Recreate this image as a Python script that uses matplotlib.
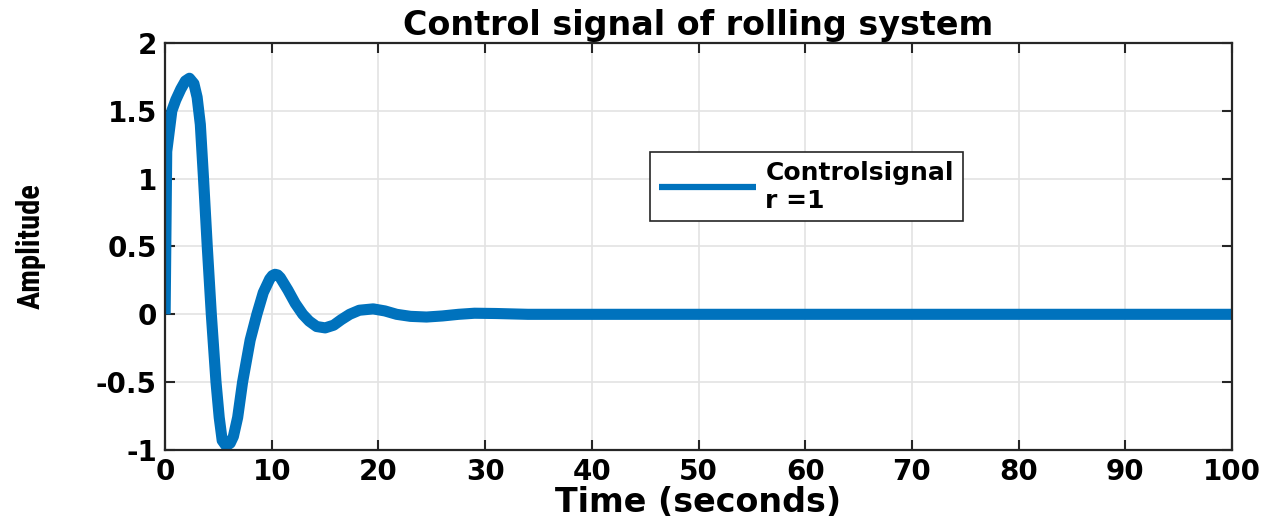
import numpy as np
import matplotlib
matplotlib.use("Agg")
import matplotlib.pyplot as plt

# control signal (time in s, amplitude)
t = [0, 0.15, 0.63, 1.0, 1.47, 1.9, 2.28, 2.7, 3.0, 3.3, 3.6, 3.95, 4.33,
     4.77, 5.07, 5.35, 5.72, 6.1, 6.4, 6.8, 7.26, 7.97, 8.6, 9.2, 9.8, 10.05, 10.3,
     10.55, 10.8, 11.5, 12.2, 12.9, 13.5, 14.2, 15.0, 15.8, 16.5, 17.3, 18.2, 19.5,
     20.6, 21.7, 23.0, 24.5, 26.0, 27.5, 29.0, 31.0, 34.0, 100.0]
u = [0, 1.2, 1.5, 1.58, 1.66, 1.72, 1.74, 1.7, 1.6, 1.4, 1.0, 0.5, 0.0,
     -0.5, -0.76, -0.93, -0.97, -0.95, -0.9, -0.76, -0.5, -0.19, 0.0, 0.16, 0.26, 0.285, 0.295,
     0.29, 0.27, 0.18, 0.08, 0.0, -0.05, -0.09, -0.10, -0.08, -0.04, 0.0, 0.03, 0.04,
     0.025, 0.0, -0.015, -0.02, -0.012, 0.0, 0.008, 0.006, 0.0, 0.0]

xticks = list(range(0, 101, 10))
yticks = [-1, -0.5, 0, 0.5, 1, 1.5, 2]
ytick_labels = ["-1", "-0.5", "0", "0.5", "1", "1.5", "2"]

plt.rcParams['font.family'] = ['DejaVu Sans']

fig = plt.figure(figsize=(12.8, 5.21), dpi=100)
ax = fig.add_axes([0.129, 0.1363, 0.8335, 0.7812])

ax.plot(t, u, color='#0072BD', linewidth=8, solid_joinstyle='round',
        solid_capstyle='butt', label='Controlsignal\nr =1')

ax.set_xlim(0, 100)
ax.set_ylim(-1, 2)
ax.set_xticks(xticks)
ax.set_yticks(yticks)
ax.set_yticklabels(ytick_labels)
ax.grid(True, color='#e3e3e3', linewidth=1.2)
ax.set_axisbelow(True)

ax.tick_params(direction='in', length=7, width=1.5, top=True, right=True,
               labelsize=20, colors='#262626', pad=6)
for lab in ax.get_xticklabels() + ax.get_yticklabels():
    lab.set_fontweight('bold')
    lab.set_color('black')
for s in ax.spines.values():
    s.set_color('#262626')
    s.set_linewidth(1.6)

ax.set_title('Control signal of rolling system', fontsize=24, fontweight='bold', pad=6)
ax.set_xlabel('Time (seconds)', fontsize=24, fontweight='bold', labelpad=0)
ax.set_ylabel('Amplitude', fontsize=22, fontstretch='condensed', fontweight='bold',
              family=['Liberation Sans Narrow', 'DejaVu Sans Condensed',
                      'Roboto Condensed', 'DejaVu Sans'])
ax.yaxis.set_label_coords(-0.112, 0.5)

leg = ax.legend(loc='upper left', bbox_to_anchor=(0.4545, 0.732), borderaxespad=0,
                fancybox=False, framealpha=1, edgecolor='#262626',
                prop={'weight': 'bold', 'size': 18}, handlelength=3.9,
                handletextpad=0.36, borderpad=0.35, labelspacing=0.2)
leg.get_frame().set_linewidth(1.2)
for line in leg.get_lines():
    line.set_linewidth(4.5)

fig.savefig('out.png', dpi=100)
